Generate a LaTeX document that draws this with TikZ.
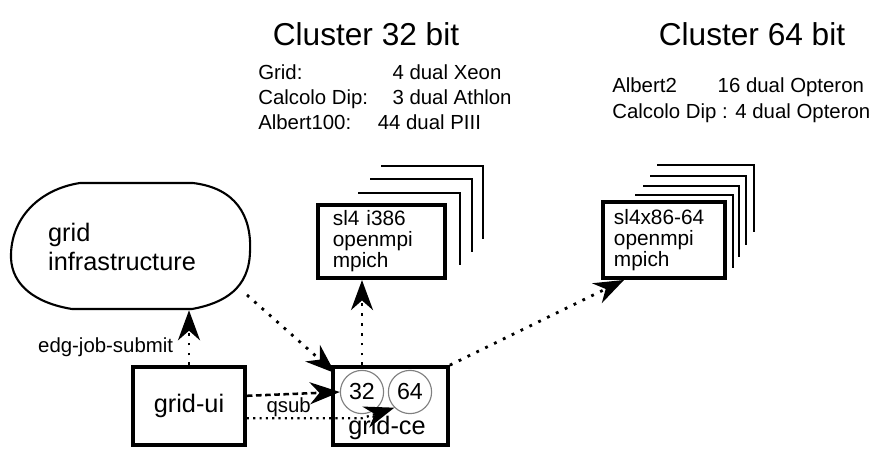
\documentclass[tikz,border=0pt]{standalone}
\usepackage{fontspec}
\setmainfont{Liberation Sans}
\usetikzlibrary{arrows.meta,calc,positioning}
\tikzset{
  heavybox/.style={draw, line width=2.6pt, fill=white, align=center},
  pkgbox/.style={draw, line width=2.8pt, fill=white, align=left, inner ysep=0pt, font=\fontsize{14.8}{15}\selectfont},
  layer/.style={line width=2pt},
  cpu/.style={draw=gray, line width=0.8pt, circle, minimum size=1.08cm, inner sep=0pt, font=\fontsize{16.5}{18}\selectfont},
  cloudline/.style={line width=1.5pt},
  bighead/.tip={Stealth[length=7.5mm,width=5.5mm,inset=2.4mm]},
  flow/.style={-bighead, line width=2pt, dash pattern=on 2pt off 5pt},
  qsubflow/.style={-bighead, line width=1.8pt, dash pattern=on 4pt off 2.5pt},
  ceflow/.style={-bighead, line width=1.6pt, dash pattern=on 1.5pt off 3pt}
}
\begin{document}
\begin{tikzpicture}[x=0.025cm, y=-0.025cm, font=\fontsize{14.5}{17.7}\selectfont]
  \useasboundingbox (0,0) rectangle (890,449);
  \node[font=\fontsize{22.5}{26}\selectfont] (title32) at (366,34) {Cluster 32 bit};
  \node[font=\fontsize{22.5}{26}\selectfont] (title64) at (752,34) {Cluster 64 bit};
  \node[anchor=west, align=left, inner sep=0pt] (spec32) at (258,97)
    {\makebox[95.5pt][l]{Grid:}4 dual Xeon\\
     \makebox[95.5pt][l]{Calcolo Dip:}3 dual Athlon\\
     \makebox[85pt][l]{Albert100:}44 dual PIII};
  \node[anchor=west, align=left, inner sep=0pt, font=\fontsize{14.5}{18.4}\selectfont] (spec64) at (612,100)
    {\makebox[75pt][l]{Albert2}16 dual Opteron\\
     Calcolo Dip : 4 dual Opteron};

  % package stacks
  \foreach \lx/\ty/\rx/\by in {358/193/460/265, 370/179/472/252, 381/166/483/239}
    {\draw[layer] (\lx,\ty) -| (\rx,\by);}
  \foreach \lx/\ty/\rx/\by in {635/195/733/268, 643/186/739/257, 650/176/746/245, 657/165/754/232}
    {\draw[layer] (\lx,\ty) -| (\rx,\by);}
  \node[pkgbox, text width=2.43cm, inner xsep=0.375cm, minimum height=1.83cm] (pkg32) at (381.5,241.5) {sl4 i386\\openmpi\\mpich};
  \node[pkgbox, text width=2.5cm, inner xsep=0.275cm, minimum height=1.9cm] (pkg64) at (664,240) {sl4x86-64\\openmpi\\mpich};

  % grid infrastructure
  \draw[cloudline] (80,183) -- (193,183) .. controls (235,188) and (252,215) .. (250,252)
    .. controls (249,288) and (225,303) .. (192,309) -- (72,309)
    .. controls (35,303) and (12,285) .. (11,258) .. controls (10,218) and (40,189) .. (80,183) -- cycle;
  \node[minimum width=6cm, minimum height=3.15cm, align=left, font=\fontsize{18}{20.5}\selectfont] (infra) at (122,247) {grid\\infrastructure};
  \coordinate (infra-out) at (247,295);

  \node[heavybox, minimum width=2.8cm, minimum height=1.95cm, font=\fontsize{18}{20}\selectfont] (ui) at (189,406) {grid-ui};
  \node[heavybox, minimum width=2.875cm, minimum height=1.95cm] (ce) at (390.5,406) {};
  \node[cpu] (c32) at (362,392) {32};
  \node[cpu] (c64) at (410,392) {64};
  \node[font=\fontsize{18}{20}\selectfont] (celabel) at (387,428) {grid-ce};
  \coordinate (bend) at (c32 |- ui.-12);

  \draw[flow] (ui.north) -- (ui.north |- infra.south) node[pos=0.32, left=7pt] {edg-job-submit};
  \draw[flow] (infra-out) -- ($(ce.north west)+(4,8)$);
  \draw[qsubflow] (ui.10) -- (c32.west) node[pos=0.45, below=0pt, inner sep=1.5pt] {qsub};
  \draw[ceflow] (ui.-12) -- (bend) -- (c64.225);
  \draw[flow] (c32 |- ce.north) -- (c32 |- pkg32.south);
  \draw[flow] (ce.north east) -- (pkg64.-135);
\end{tikzpicture}
\end{document}
